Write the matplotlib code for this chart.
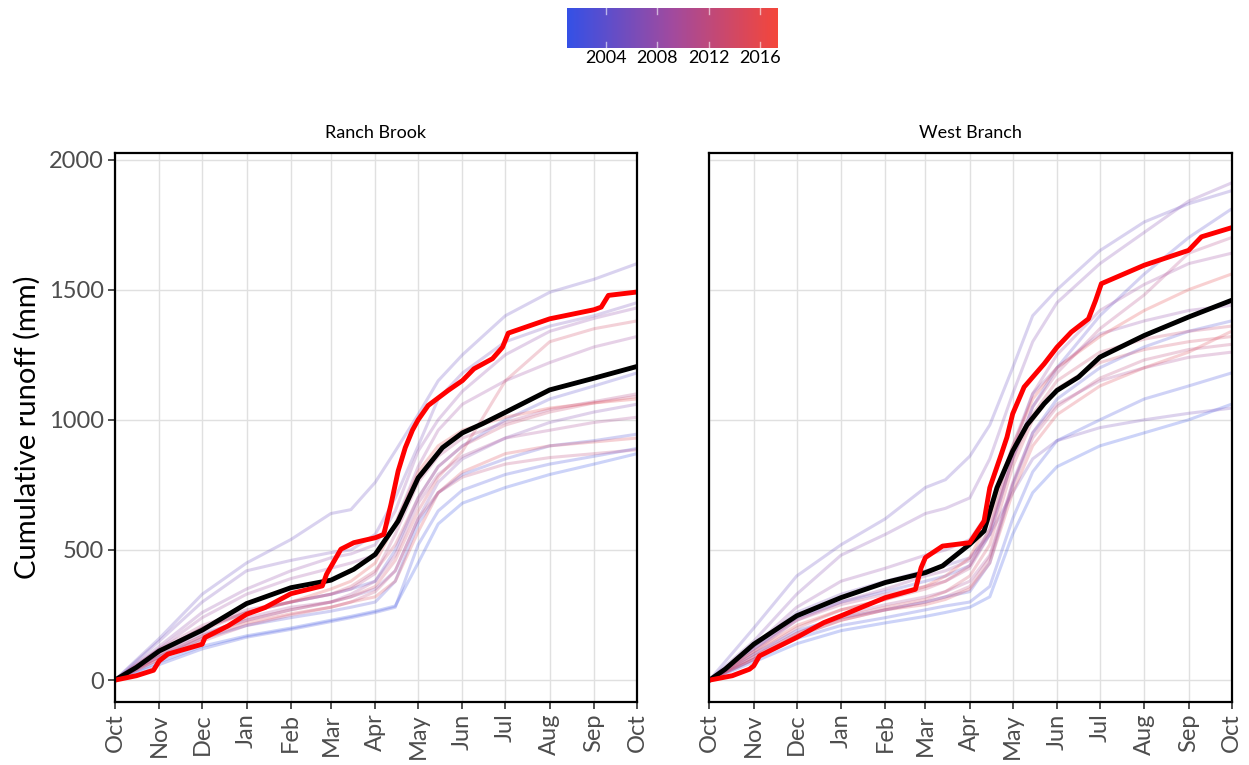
import numpy as np
import matplotlib
matplotlib.use('Agg')
from matplotlib import pyplot as plt
from matplotlib.colors import LinearSegmentedColormap, Normalize
from matplotlib.colorbar import ColorbarBase

plt.rcParams['font.family'] = ['Lato', 'DejaVu Sans']

# common day grid (days since Oct 1) for the thin yearly lines
days = [0, 31, 61, 92, 123, 151, 165, 182, 196, 212, 226, 243, 273, 304, 335, 365]
years = list(range(2001, 2017))

month_pos = [0, 31, 61, 92, 123, 151, 182, 212, 243, 273, 304, 335, 365]
month_lab = ['Oct', 'Nov', 'Dec', 'Jan', 'Feb', 'Mar', 'Apr', 'May', 'Jun', 'Jul', 'Aug', 'Sep', 'Oct']

# Ranch Brook, one row per year 2001-2016
ranch = [
    [0, 70, 130, 170, 200, 230, 245, 265, 285, 450, 600, 680, 740, 790, 830, 870],
    [0, 60, 120, 165, 195, 225, 240, 260, 280, 520, 650, 730, 790, 830, 860, 890],
    [0, 90, 160, 210, 240, 265, 280, 300, 380, 600, 720, 790, 850, 900, 920, 945],
    [0, 110, 200, 260, 300, 330, 350, 380, 500, 700, 820, 900, 1000, 1080, 1130, 1180],
    [0, 160, 330, 450, 540, 640, 655, 760, 880, 1020, 1150, 1250, 1400, 1490, 1540, 1600],
    [0, 150, 300, 420, 460, 490, 500, 560, 700, 900, 1080, 1180, 1300, 1360, 1400, 1450],
    [0, 100, 180, 230, 270, 300, 320, 350, 420, 620, 760, 850, 930, 990, 1030, 1060],
    [0, 130, 260, 350, 420, 470, 485, 520, 650, 880, 1000, 1110, 1250, 1340, 1390, 1430],
    [0, 120, 240, 330, 390, 430, 450, 480, 600, 820, 960, 1060, 1150, 1220, 1280, 1320],
    [0, 90, 170, 240, 280, 300, 330, 380, 480, 680, 790, 860, 930, 960, 990, 1010],
    [0, 120, 210, 270, 300, 330, 350, 410, 560, 760, 860, 930, 990, 1040, 1070, 1100],
    [0, 80, 150, 210, 250, 280, 300, 340, 420, 620, 720, 780, 830, 855, 870, 885],
    [0, 100, 190, 260, 300, 330, 360, 420, 520, 700, 820, 900, 980, 1030, 1065, 1090],
    [0, 90, 170, 230, 270, 300, 320, 360, 460, 650, 780, 880, 1150, 1300, 1350, 1380],
    [0, 80, 160, 220, 255, 280, 300, 320, 380, 570, 720, 800, 870, 900, 915, 930],
    [0, 110, 200, 260, 300, 350, 380, 450, 600, 800, 900, 960, 1010, 1045, 1065, 1080],
]

# West Branch, one row per year 2001-2016
west = [
    [0, 70, 140, 190, 220, 245, 260, 280, 320, 560, 720, 820, 900, 950, 1000, 1060],
    [0, 80, 160, 210, 240, 270, 285, 300, 360, 620, 800, 920, 1000, 1080, 1130, 1180],
    [0, 100, 190, 240, 270, 300, 320, 340, 450, 750, 950, 1080, 1200, 1280, 1340, 1380],
    [0, 120, 240, 300, 340, 380, 400, 440, 560, 850, 1050, 1200, 1400, 1560, 1700, 1810],
    [0, 200, 400, 520, 620, 740, 770, 860, 980, 1200, 1400, 1500, 1650, 1760, 1830, 1880],
    [0, 130, 260, 330, 380, 420, 440, 470, 560, 720, 850, 920, 970, 1000, 1025, 1045],
    [0, 150, 330, 480, 560, 640, 660, 700, 850, 1100, 1300, 1450, 1600, 1720, 1840, 1910],
    [0, 130, 280, 380, 430, 480, 500, 540, 650, 900, 1100, 1200, 1330, 1380, 1420, 1440],
    [0, 110, 230, 300, 350, 400, 420, 460, 580, 880, 1100, 1250, 1420, 1520, 1600, 1640],
    [0, 90, 180, 250, 290, 320, 340, 380, 480, 760, 950, 1060, 1150, 1200, 1240, 1260],
    [0, 120, 230, 290, 330, 360, 380, 430, 560, 850, 1050, 1180, 1350, 1480, 1640, 1700],
    [0, 80, 170, 230, 270, 300, 320, 360, 470, 750, 930, 1050, 1160, 1230, 1270, 1290],
    [0, 100, 200, 270, 310, 350, 380, 440, 580, 850, 1020, 1150, 1260, 1310, 1340, 1360],
    [0, 90, 180, 240, 280, 310, 340, 400, 520, 820, 1000, 1120, 1220, 1270, 1300, 1320],
    [0, 80, 170, 230, 270, 290, 310, 350, 450, 720, 900, 1020, 1130, 1200, 1260, 1340],
    [0, 110, 210, 270, 310, 360, 400, 470, 620, 900, 1080, 1200, 1320, 1420, 1500, 1560],
]

# mean of record (black) and current year 2017 (thick red)
ranch_mean_d = [0, 15, 31, 61, 92, 123, 151, 167, 182, 198, 212, 229, 243, 257, 273, 304, 335, 365]
ranch_mean = [0, 49, 112, 192, 294, 355, 384, 426, 483, 611, 777, 893, 950, 985, 1029, 1115, 1160, 1205]
ranch_cur_d = [0, 15, 27, 31, 37, 61, 63, 79, 92, 105, 123, 145, 148, 158, 167, 182, 188, 193, 198, 203,
               208, 212, 219, 233, 243, 251, 264, 271, 275, 304, 335, 340, 345, 365]
ranch_cur = [0, 17, 38, 74, 100, 138, 164, 208, 253, 279, 332, 362, 407, 503, 528, 547, 560, 675, 803, 893,
             960, 1000, 1055, 1113, 1151, 1196, 1235, 1279, 1333, 1388, 1423, 1433, 1478, 1491]

west_mean_d = [0, 11, 31, 61, 92, 123, 151, 163, 182, 192, 201, 212, 222, 234, 243, 258, 273, 304, 335, 365]
west_mean = [0, 42, 138, 247, 317, 375, 413, 439, 522, 573, 739, 880, 980, 1062, 1113, 1164, 1241, 1324, 1395, 1459]
west_cur_d = [0, 16, 28, 31, 35, 61, 80, 92, 106, 123, 144, 148, 151, 163, 182, 192, 196, 204, 208, 212,
              220, 234, 243, 253, 265, 270, 274, 304, 335, 344, 365]
west_cur = [0, 17, 42, 55, 93, 164, 221, 247, 279, 317, 349, 432, 471, 515, 528, 611, 739, 867, 933, 1023,
            1126, 1215, 1279, 1337, 1388, 1459, 1523, 1594, 1651, 1703, 1738]

cmap = LinearSegmentedColormap.from_list('yr', ['#3450e6', '#a14a9e', '#f4463a'])
norm = Normalize(vmin=2001, vmax=2017.4)

fig = plt.figure(figsize=(12.49, 7.65), dpi=100)
ax1 = fig.add_axes([0.092, 0.082, 0.418, 0.718])
ax2 = fig.add_axes([0.568, 0.082, 0.418, 0.718])

panels = [(ax1, 'Ranch Brook', ranch, ranch_mean_d, ranch_mean, ranch_cur_d, ranch_cur),
          (ax2, 'West Branch', west, west_mean_d, west_mean, west_cur_d, west_cur)]

for ax, name, data, md, mv, cd, cv in panels:
    for yr, vals in zip(years, data):
        ax.plot(days, vals, color=cmap(norm(yr)), alpha=0.25, lw=2.2, solid_capstyle='butt')
    ax.plot(md, mv, color='black', lw=3.5)
    ax.plot(cd, cv, color='#ff0000', lw=3.5)
    ax.set_xlim(0, 365)
    ax.set_ylim(-85, 2025)
    ax.set_xticks(month_pos)
    ax.set_xticklabels(month_lab, rotation=90, fontsize=17, color='#4d4d4d')
    ax.set_yticks([0, 500, 1000, 1500, 2000])
    ax.grid(True, color='#e0e0e0', lw=1.0)
    ax.set_axisbelow(True)
    for s in ax.spines.values():
        s.set_linewidth(1.6)
        s.set_color('black')
    ax.tick_params(axis='both', length=5, width=1.2, color='#333333', pad=3)
    ax.set_title(name, fontsize=13, pad=11)

ax1.set_yticklabels(['0', '500', '1000', '1500', '2000'], fontsize=17, color='#4d4d4d')
ax1.set_ylabel('Cumulative runoff (mm)', fontsize=21, labelpad=6)
ax2.tick_params(axis='y', left=False, labelleft=False)

# colour bar for the years
cax = fig.add_axes([0.454, 0.937, 0.169, 0.052])
cb = ColorbarBase(cax, cmap=cmap, norm=norm, orientation='horizontal', ticks=[2004, 2008, 2012, 2016])
cb.outline.set_visible(False)
cax.tick_params(axis='x', length=0, labelsize=13, pad=1)
cax.set_xticklabels(['2004', '2008', '2012', '2016'])
for t in [2004, 2008, 2012, 2016]:
    cax.plot([t, t], [0, 0.15], color='white', lw=1, alpha=0.6)
    cax.plot([t, t], [0.85, 1], color='white', lw=1, alpha=0.6)

fig.savefig('out.png', dpi=100)
